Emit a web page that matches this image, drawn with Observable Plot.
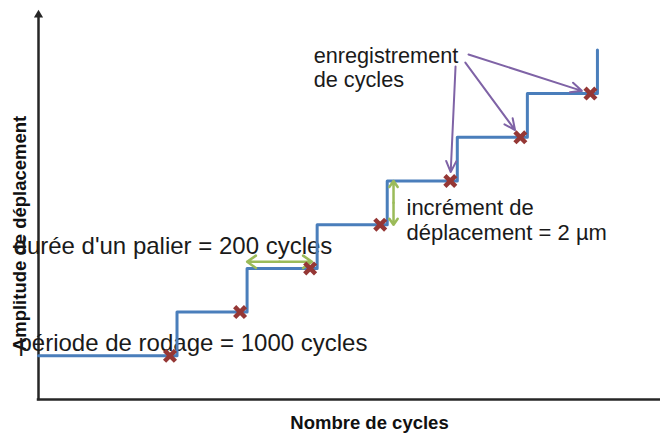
<!DOCTYPE html>
<html>
<head>
<meta charset="utf-8">
<script src="https://cdn.jsdelivr.net/npm/d3@7"></script>
<script src="https://cdn.jsdelivr.net/npm/@observablehq/plot@0.6"></script>
<style>
  body { margin: 0; background: #fff; }
  #chart svg { display: block; }
</style>
</head>
<body>
<div id="chart"></div>
<script>
// Step test: 1000-cycle run-in, then the amplitude rises by 2 µm every 200 cycles
const stepCycles = [0, 1000, 1200, 1400, 1600, 1800, 2000, 2200];
const stepAmplitude = [2, 4, 6, 8, 10, 12, 14, 16];

// Cycle counts recorded at the end of each level
const recordCycles = [980, 1180, 1380, 1580, 1780, 1980, 2180];
const recordAmplitude = [2, 4, 6, 8, 10, 12, 14];

// Pointers from the "enregistrement de cycles" note to three recordings
const pointerFromCycles = [1832, 1823, 1795];
const pointerFromAmplitude = [15.79, 15.42, 15.24];
const pointerToRecord = [6, 5, 4];

// Dimension arrows: one level's duration and one amplitude increment
const paceCycles = [1200, 1385];
const paceAmplitude = 6.3;
const incrementCycles = 1618;
const incrementAmplitude = [8, 10];

// Notes
const noteText = [
  "enregistrement\nde cycles",
  "incrément de\ndéplacement = 2 µm",
  "durée d'un palier = 200 cycles",
  "période de rodage = 1000 cycles"
];
const noteCycles = [1390, 1655, -186, -149];
const noteAmplitude = [14.28, 7.28, 6.68, 2.2];
const noteSize = [21.7, 22, 24, 24];

const axisTop = 17.6;
const cyclesMax = 2380;

// The run-in period is drawn compressed: cycles before the first
// recording are shrunk by this ratio on the horizontal axis.
const runInEnd = 980;
const runInRatio = 0.383;
const squeeze = c => (c < runInEnd ? runInEnd - (runInEnd - c) * runInRatio : c);

const steps = stepCycles.map((c, i) => ({cycles: c, amplitude: stepAmplitude[i]}));
const records = recordCycles.map((c, i) => ({cycles: c, amplitude: recordAmplitude[i]}));
const pointers = pointerToRecord.map((r, i) => ({
  x1: pointerFromCycles[i], y1: pointerFromAmplitude[i],
  x2: recordCycles[r], y2: recordAmplitude[r]
}));
const paceMid = (paceCycles[0] + paceCycles[1]) / 2;
const incMid = (incrementAmplitude[0] + incrementAmplitude[1]) / 2;
const dims = [
  {x1: paceMid, y1: paceAmplitude, x2: paceCycles[0], y2: paceAmplitude},
  {x1: paceMid, y1: paceAmplitude, x2: paceCycles[1], y2: paceAmplitude},
  {x1: incrementCycles, y1: incMid, x2: incrementCycles, y2: incrementAmplitude[0]},
  {x1: incrementCycles, y1: incMid, x2: incrementCycles, y2: incrementAmplitude[1]}
];

const axisColor = "#262626";
const font = "Liberation Sans, Arial, sans-serif";

const noteMarks = noteText.map((t, i) =>
  Plot.text([t], {
    x: () => noteCycles[i], y: () => noteAmplitude[i], text: d => d,
    textAnchor: "start", lineAnchor: "bottom", lineHeight: 1.15,
    fontSize: noteSize[i], fill: "#1a1a1a"
  })
);

const chart = Plot.plot({
  width: 660,
  height: 434,
  marginTop: 6,
  marginBottom: 35,
  marginLeft: 38,
  marginRight: 0,
  style: {fontFamily: font, background: "#fff", overflow: "visible"},
  x: {transform: squeeze, domain: [squeeze(0), cyclesMax], range: [38, 660], axis: null},
  y: {domain: [0, 18], range: [399, 5.7], axis: null},
  marks: [
    // axes
    Plot.ruleX([0], {y1: 0, y2: axisTop, stroke: axisColor, strokeWidth: 2.5, strokeLinecap: "square"}),
    Plot.ruleY([0], {x1: 0, x2: cyclesMax, stroke: axisColor, strokeWidth: 2.5, strokeLinecap: "square"}),
    Plot.dot([{cycles: 0, amplitude: axisTop}], {x: "cycles", y: "amplitude", symbol: "triangle", r: 3.4, fill: axisColor, stroke: "none"}),
    Plot.text(["Nombre de cycles"], {frameAnchor: "bottom", dx: 20, dy: 29, lineAnchor: "bottom", fontSize: 18.5, fontWeight: "bold", fill: "#111"}),
    Plot.text(["Amplitude de déplacement"], {frameAnchor: "left", y: () => 7.6, dx: -18, rotate: -90, textAnchor: "middle", fontSize: 18.5, fontWeight: "bold", fill: "#111"}),
    // notes
    ...noteMarks,
    // loading steps
    Plot.line(steps, {x: "cycles", y: "amplitude", curve: "step-after", stroke: "#4a7ebb", strokeWidth: 3}),
    // dimension arrows
    Plot.arrow(dims, {x1: "x1", y1: "y1", x2: "x2", y2: "y2", stroke: "#9bbb59", strokeWidth: 2.5, headLength: 9, headAngle: 70}),
    // pointers to recordings
    Plot.arrow(pointers, {x1: "x1", y1: "y1", x2: "x2", y2: "y2", stroke: "#7f63a6", strokeWidth: 2, headLength: 9, headAngle: 50, insetEnd: 9}),
    // recorded points
    Plot.dot(records, {x: "cycles", y: "amplitude", symbol: "times", r: 5, stroke: "#953735", strokeWidth: 4.5})
  ]
});

document.getElementById("chart").append(chart);
</script>
</body>
</html>
